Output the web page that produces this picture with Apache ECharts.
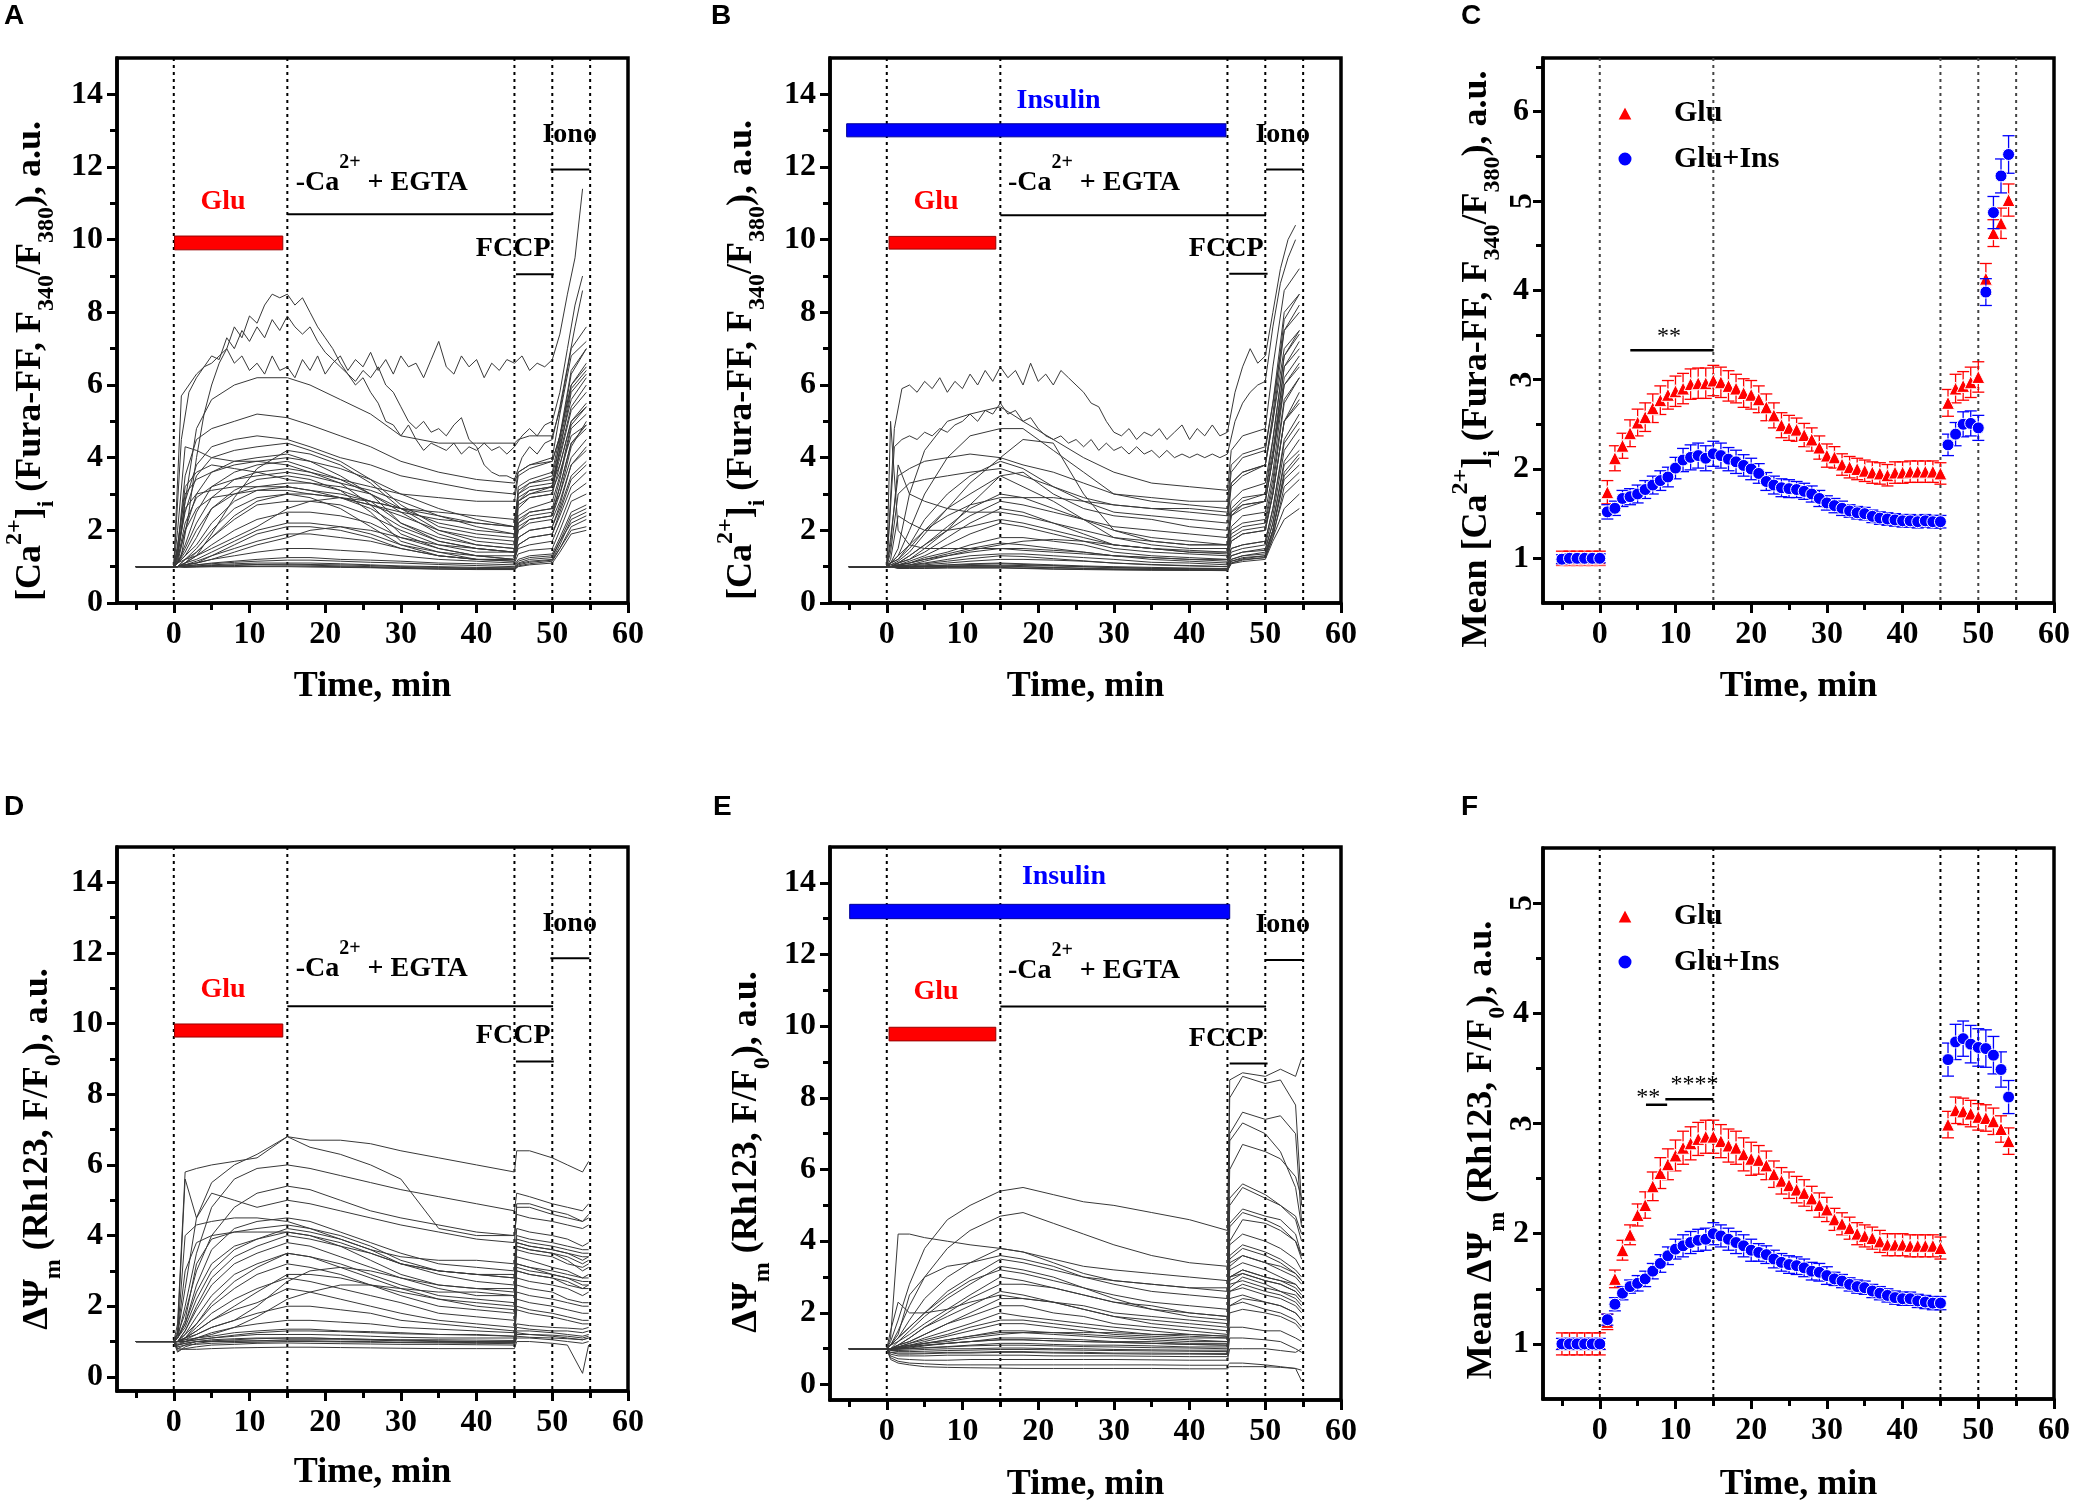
<!DOCTYPE html>
<html><head><meta charset="utf-8">
<script src="https://cdn.jsdelivr.net/npm/echarts@6/dist/echarts.min.js"></script>
<style>html,body{margin:0;padding:0;background:#fff}#c{width:2074px;height:1507px}</style>
</head><body><div id="c"></div><script>
// ---------------- DATA ----------------
const T_CA = [-5,0,0.5,1.5,3,5,8,11,15,18,22,26,30,35,40,45,45.5,47,50,51,52.5,54.5];
const T_RH = [-5,0,0.5,1.5,3,5,8,11,15,18,22,26,30,35,40,45,45.3,47,50,52,54,54.8];
const T_FINE = [-5,0,1,2,3,4,5,6,7,8,9,10,11,12,13,14,15,16,17,18,19,20,21,22,23,24,25,26,27,28,29,30,31,32,33,34,35,36,37,38,39,40,41,42,43,44,45,46,47,48,49,50,51,52,53,54];

const A_NOISY = [
[1,1,5.7,6.0,6.3,6.5,6.6,6.8,7.0,6.6,6.8,6.4,6.6,6.3,6.8,6.4,6.5,6.2,6.7,6.4,6.8,6.3,6.6,6.8,6.4,6.7,6.5,6.9,6.4,6.7,6.3,6.8,6.5,6.6,6.2,6.7,7.2,6.5,6.3,6.8,6.5,6.7,6.2,6.6,6.4,6.7,6.6,6.8,6.4,6.6,6.5,6.7,7.4,8.5,9.5,11.4],
[1,1,1.3,2.5,4.0,5.2,6.0,6.6,7.0,7.6,7.3,7.9,7.7,8.2,8.5,8.4,8.5,8.2,8.4,8.0,7.6,7.3,7.0,6.6,6.3,6.0,6.2,5.8,5.5,5.0,4.9,4.6,4.9,4.5,4.2,4.4,4.3,4.2,4.4,4.1,4.3,4.2,4.4,4.2,4.3,4.1,4.3,4.6,4.8,4.6,4.9,5.0,5.8,7.0,8.2,9.0],
[1,1,4.5,5.8,6.2,6.5,6.8,6.7,7.3,7.0,7.5,7.2,7.6,7.3,7.8,7.5,7.9,7.6,7.4,7.6,7.2,6.9,6.7,6.5,6.3,6.1,6.4,6.2,6.5,6.0,5.8,5.4,5.0,4.8,5.0,4.7,4.8,4.6,4.9,5.1,4.5,4.3,3.8,3.6,3.5,3.5,3.4,4.0,4.3,4.1,4.4,4.5,5.4,6.5,7.6,8.6]
];
const B_NOISY = [
[1,1,4.8,5.9,6.0,5.8,6.1,5.9,6.2,5.8,6.1,5.9,6.3,6.0,6.4,6.1,6.5,6.2,6.4,6.0,6.6,6.1,6.3,6.0,6.4,6.2,6.0,5.8,5.5,5.4,5.0,4.7,4.6,4.8,4.5,4.7,4.6,4.8,4.5,4.7,4.9,4.5,4.8,4.6,4.9,4.6,4.7,5.8,6.5,7.0,6.6,6.8,8.0,9.2,10.0,10.4],
[1,1,4.3,4.5,4.6,4.5,4.7,4.6,4.8,4.7,4.9,5.0,5.2,5.0,5.3,5.2,5.5,5.2,5.3,5.0,5.1,4.8,4.6,4.5,4.6,4.4,4.5,4.3,4.5,4.2,4.4,4.2,4.3,4.1,4.3,4.1,4.2,4.0,4.2,4.0,4.1,4.0,4.1,4.0,4.1,4.0,4.1,5.0,5.5,5.8,6.0,6.1,7.6,8.8,9.5,10.0]
];

const A_TRACES = [
[1,1,1.3,2.8,4.8,5.6,6.0,6.2,6.2,6.0,5.6,5.2,4.6,4.4,4.4,4.4,4.5,4.6,4.6,5.3,7.0,7.6],
[1,1,1.5,3.5,4.5,4.8,5.0,5.2,5.1,4.9,4.6,4.3,3.9,3.6,3.4,3.3,3.6,3.8,4.0,5.2,6.8,7.2],
[1,1,1.3,2.8,3.8,4.3,4.5,4.6,4.5,4.3,4.0,3.8,3.5,3.3,3.1,3.0,3.6,3.8,3.9,4.6,6.4,7.0],
[1,1,1.4,2.5,3.5,4.0,4.2,4.3,4.4,4.2,3.9,3.4,2.7,2.1,1.9,1.8,3.2,3.4,3.6,4.6,6.0,6.5],
[1,1,1.2,2.0,3.0,3.6,3.9,4.0,4.1,3.9,3.5,3.0,2.2,1.7,1.5,1.4,2.6,2.9,3.0,4.3,5.6,6.2],
[1,1,1.1,1.6,2.5,3.2,3.6,3.8,3.9,3.7,3.4,3.0,2.6,2.2,2.0,1.9,2.7,2.9,3.0,3.8,5.0,5.5],
[1,1,1.1,1.5,2.2,2.9,3.4,3.6,3.7,3.6,3.3,2.7,1.9,1.5,1.3,1.2,2.2,2.5,2.6,3.4,4.8,5.2],
[1,1,1.1,1.3,1.8,2.6,3.1,3.4,3.5,3.4,3.1,2.5,1.7,1.4,1.2,1.2,2.0,2.3,2.4,3.0,4.3,5.0],
[1,1,1.1,1.3,1.6,2.2,2.8,3.1,3.2,3.1,2.9,2.7,2.5,2.3,2.2,2.1,2.8,3.0,3.1,3.6,4.6,4.9],
[1,1,1.0,1.2,1.5,2.0,2.6,2.9,3.0,3.0,2.9,2.7,2.4,2.0,1.8,1.7,2.3,2.5,2.6,3.0,4.0,4.5],
[1,1,1.0,1.2,1.4,1.8,2.3,2.7,2.8,2.8,2.7,2.4,2.0,1.6,1.4,1.4,2.0,2.2,2.3,2.8,3.8,4.2],
[1,1,1.0,1.1,1.3,1.6,2.0,2.3,2.5,2.5,2.4,2.2,1.8,1.5,1.3,1.3,1.8,2.0,2.1,2.6,3.5,3.9],
[1,1,1.0,1.1,1.2,1.4,1.7,2.0,2.2,2.2,2.1,1.9,1.6,1.4,1.3,1.2,1.6,1.8,1.9,2.4,3.2,3.6],
[1,1,1.0,1.05,1.1,1.3,1.5,1.7,1.9,1.9,1.8,1.7,1.5,1.3,1.2,1.2,1.5,1.6,1.7,2.2,3.0,3.3],
[1,1,1.0,1.05,1.1,1.2,1.3,1.4,1.5,1.5,1.45,1.4,1.3,1.2,1.15,1.1,1.35,1.45,1.5,2.0,2.8,3.0],
[1,1,1.0,1.02,1.05,1.1,1.15,1.2,1.25,1.25,1.2,1.18,1.15,1.1,1.08,1.05,1.2,1.3,1.35,1.8,2.5,2.7],
[1,1,1.0,1.0,1.02,1.05,1.08,1.1,1.1,1.1,1.08,1.05,1.02,1.0,0.98,0.97,1.1,1.2,1.25,1.7,2.2,2.4],
[1,1,1.0,0.98,1.0,1.02,1.03,1.05,1.05,1.04,1.02,1.0,0.98,0.96,0.95,0.94,1.05,1.12,1.18,1.5,2.0,2.1],
[1,1,1.0,1.0,1.0,1.0,1.0,1.0,1.0,0.99,0.98,0.97,0.95,0.93,0.92,0.92,1.0,1.05,1.1,1.4,1.9,2.0],
[1,1,1.5,3.2,3.6,3.8,3.7,3.6,3.4,3.3,3.1,2.8,2.2,1.8,1.6,1.5,2.8,3.0,3.2,4.2,5.8,6.3],
[1,1,1.0,1.1,1.3,1.9,2.9,3.7,4.2,4.1,3.8,3.3,2.6,2.0,1.7,1.6,2.8,3.1,3.2,4.5,6.3,7.0],
[1,1,2.0,4.3,4.2,4.0,3.9,3.9,3.8,3.6,3.4,3.2,3.0,2.9,2.8,2.8,3.5,3.7,3.9,4.6,6.0,6.6],
[1,1,1.1,1.2,1.3,1.5,1.8,2.1,2.6,2.8,2.9,2.8,2.6,2.5,2.4,2.3,3.0,3.2,3.3,3.8,5.0,5.4],
[1,1,1.0,1.05,1.1,1.2,1.4,1.6,1.8,2.0,2.1,2.0,1.8,1.6,1.5,1.4,2.1,2.3,2.4,3.2,4.4,4.8],
[1,1,1.6,3.0,3.4,3.6,3.8,3.9,4.0,3.9,3.7,3.4,3.0,2.6,2.3,2.1,3.0,3.3,3.5,4.4,5.9,6.4],
[1,1,1.2,2.2,2.9,3.2,3.4,3.5,3.6,3.5,3.3,3.1,2.8,2.4,2.1,1.9,2.9,3.1,3.2,4.0,5.3,5.8],
[1,1,1.1,1.4,2.0,2.6,3.0,3.2,3.3,3.3,3.2,3.0,2.5,1.9,1.6,1.5,2.4,2.6,2.8,3.5,4.9,5.4],
[1,1,1.3,2.6,3.0,3.1,3.2,3.2,3.2,3.1,3.0,2.8,2.6,2.4,2.2,2.1,3.1,3.3,3.4,4.1,5.4,6.0],
[1,1,1.0,1.1,1.4,1.8,2.4,2.8,3.0,2.9,2.6,2.1,1.6,1.3,1.2,1.15,1.8,2.0,2.1,2.7,3.8,4.3],
[1,1,1.0,1.05,1.15,1.3,1.6,1.9,2.1,2.1,2.0,1.8,1.5,1.3,1.2,1.15,1.6,1.8,1.9,2.5,3.4,3.8],
[1,1,1.0,1.02,1.05,1.08,1.12,1.15,1.18,1.18,1.15,1.12,1.1,1.06,1.03,1.0,1.15,1.25,1.3,1.7,2.4,2.6],
[1,1,1.0,0.99,0.99,1.0,1.0,1.01,1.02,1.01,1.0,0.98,0.96,0.94,0.93,0.92,1.02,1.08,1.15,1.5,2.1,2.3],
[1,1,1.0,1.0,1.01,1.03,1.05,1.06,1.07,1.06,1.05,1.03,1.0,0.98,0.96,0.95,1.08,1.15,1.2,1.6,2.3,2.5],
[1,1,1.1,2.0,2.6,2.9,3.0,3.1,3.1,3.0,2.9,2.6,2.1,1.7,1.5,1.4,2.2,2.4,2.5,3.2,4.4,4.9]
];

const B_TRACES = [
[1,1,1.1,1.5,3.0,4.2,5.0,5.2,5.4,5.0,4.5,4.0,3.6,3.3,3.2,3.1,4.2,4.6,4.8,6.5,8.6,9.2],
[1,1,1.1,1.3,2.0,3.0,4.0,4.6,4.8,4.8,4.2,3.6,3.0,2.8,2.7,2.6,3.6,4.0,4.2,5.5,8.0,8.5],
[1,1,1.8,3.5,3.7,3.9,4.0,4.1,4.0,3.8,3.6,3.3,3.0,2.9,2.8,2.8,3.8,4.1,4.3,5.5,7.5,8.0],
[1,1,1.1,1.2,1.6,2.3,3.0,3.5,3.9,3.7,3.2,2.8,2.5,2.4,2.3,2.2,3.2,3.5,3.8,5.0,7.5,8.2],
[1,1,1.05,1.15,1.4,1.9,2.6,3.0,3.5,3.2,2.8,2.3,1.8,1.6,1.5,1.5,2.6,2.9,3.0,4.5,6.8,7.5],
[1,1,1.05,1.1,1.3,1.6,2.1,2.6,3.0,2.9,2.6,2.3,2.0,1.8,1.7,1.6,2.4,2.7,2.8,4.0,6.5,7.0],
[1,1,1.0,1.1,1.2,1.4,1.8,2.2,2.6,2.5,2.2,1.9,1.6,1.5,1.4,1.4,2.1,2.4,2.5,3.6,6.0,6.6],
[1,1,1.0,1.05,1.15,1.3,1.6,1.9,2.2,2.1,1.9,1.7,1.5,1.4,1.35,1.3,1.9,2.1,2.2,3.2,5.5,6.2],
[1,1,1.0,1.05,1.1,1.25,1.4,1.6,1.8,1.8,1.7,1.6,1.4,1.3,1.25,1.2,1.7,1.9,2.0,3.0,5.0,5.8],
[1,1,1.0,1.02,1.05,1.15,1.3,1.4,1.5,1.5,1.45,1.4,1.3,1.2,1.15,1.1,1.5,1.6,1.7,2.6,4.5,5.2],
[1,1,1.0,1.0,1.05,1.1,1.2,1.3,1.35,1.35,1.3,1.25,1.2,1.12,1.1,1.05,1.4,1.5,1.6,2.4,4.2,4.8],
[1,1,1.0,1.0,1.02,1.05,1.1,1.15,1.2,1.2,1.18,1.15,1.1,1.05,1.02,1.0,1.3,1.4,1.5,2.2,3.8,4.2],
[1,1,1.0,0.98,1.0,1.02,1.05,1.08,1.1,1.08,1.05,1.02,1.0,0.98,0.96,0.95,1.2,1.3,1.4,2.0,3.4,3.8],
[1,1,1.0,0.97,0.98,1.0,1.0,1.02,1.02,1.0,0.98,0.96,0.94,0.93,0.92,0.91,1.15,1.22,1.3,1.9,3.0,3.4],
[1,1,1.0,0.96,0.96,0.97,0.98,0.98,0.98,0.96,0.94,0.93,0.92,0.91,0.9,0.9,1.1,1.18,1.25,1.8,2.6,3.0],
[1,1,1.0,0.95,0.95,0.95,0.96,0.96,0.96,0.95,0.93,0.92,0.91,0.9,0.9,0.89,1.08,1.14,1.2,1.7,2.3,2.6],
[1,1,5.0,2.0,1.6,1.5,1.5,1.5,1.5,1.45,1.4,1.35,1.3,1.25,1.2,1.2,1.7,1.9,2.0,3.0,5.0,5.5],
[1,1,1.1,1.3,1.6,2.0,2.4,2.7,2.9,2.9,2.9,2.8,2.7,2.6,2.6,2.5,3.3,3.6,3.8,5.0,7.0,7.5],
[1,1,1.1,1.2,1.5,2.0,2.6,3.3,4.0,4.5,4.4,3.0,2.0,1.7,1.6,1.6,2.5,2.8,3.0,4.2,6.5,7.2],
[1,1,1.0,1.1,1.2,1.5,2.0,2.7,3.5,3.6,3.0,2.6,2.4,2.3,2.1,2.0,2.8,3.1,3.3,4.5,6.8,7.4],
[1,1,1.6,3.8,3.0,2.8,2.6,2.5,2.5,2.4,2.2,2.0,1.8,1.7,1.6,1.6,2.4,2.6,2.8,4.0,6.0,6.5],
[1,1,1.0,1.05,1.1,1.2,1.35,1.5,1.65,1.6,1.5,1.4,1.3,1.25,1.2,1.15,1.5,1.6,1.7,2.6,4.4,5.0],
[1,1,1.0,1.02,1.04,1.08,1.15,1.22,1.3,1.28,1.22,1.16,1.1,1.06,1.03,1.0,1.3,1.4,1.45,2.2,3.9,4.5],
[1,1,1.0,0.99,1.0,1.02,1.04,1.06,1.08,1.06,1.03,1.0,0.97,0.95,0.94,0.93,1.15,1.25,1.3,2.0,3.6,4.1],
[1,1,1.0,0.98,0.98,0.99,1.0,1.0,1.0,0.99,0.97,0.95,0.93,0.92,0.91,0.9,1.1,1.2,1.25,1.8,3.2,3.6],
[1,1,1.2,2.4,2.2,2.0,2.0,2.1,2.3,2.2,2.0,1.8,1.6,1.5,1.4,1.35,2.0,2.2,2.3,3.4,5.6,6.2],
[1,1,1.0,1.1,1.3,1.6,2.0,2.4,2.8,2.7,2.5,2.3,2.1,2.0,1.9,1.8,2.5,2.7,2.8,4.0,6.2,6.8],
[1,1,1.0,1.03,1.1,1.2,1.3,1.45,1.6,1.7,1.75,1.7,1.6,1.5,1.45,1.4,1.8,2.0,2.1,3.0,5.0,5.6],
[1,1,1.0,1.0,1.0,1.01,1.02,1.03,1.04,1.03,1.02,1.0,0.98,0.96,0.95,0.94,1.2,1.3,1.35,2.0,3.5,4.0],
[1,1,1.4,3.0,3.3,3.4,3.5,3.6,3.7,3.5,3.2,2.9,2.7,2.6,2.5,2.4,3.3,3.6,3.8,5.2,7.8,8.5]
];

const D_TRACES = [
[1,1,1.5,5.8,5.9,6.0,6.1,6.2,6.8,6.7,6.7,6.6,6.4,6.2,6.0,5.8,6.4,6.4,6.2,6.0,5.8,6.1],
[1,1,1.2,2.5,4.5,5.5,6.0,6.3,6.8,6.5,6.3,6.0,5.6,4.2,4.0,4.0,4.8,4.8,4.6,4.5,4.4,4.5],
[1,1,1.1,2.0,3.5,4.8,5.6,5.9,6.0,5.9,5.7,5.5,5.3,5.1,4.9,4.7,5.2,5.1,4.9,4.8,4.7,4.9],
[1,1,1.2,1.8,3.0,4.0,4.8,5.2,5.4,5.3,5.0,4.7,4.5,4.3,4.1,4.0,4.6,4.5,4.4,4.3,4.2,4.3],
[1,1,1.1,1.5,2.6,3.6,4.2,4.4,4.5,4.4,4.1,3.8,3.5,3.2,3.1,3.0,4.0,3.9,3.8,3.7,3.6,3.6],
[1,1,1.1,1.6,3.2,3.9,4.1,4.2,4.3,4.2,4.0,3.7,3.3,3.0,2.9,2.9,3.8,3.7,3.6,3.5,3.3,3.4],
[1,1,1.1,1.4,2.2,3.0,3.6,3.9,4.1,4.0,3.7,3.3,2.9,2.6,2.5,2.5,3.6,3.5,3.4,3.2,3.1,3.2],
[1,1,1.0,1.3,1.9,2.6,3.2,3.5,3.8,3.7,3.4,3.1,2.8,2.5,2.3,2.3,3.4,3.3,3.1,3.0,2.8,2.9],
[1,1,1.0,1.2,1.7,2.3,2.9,3.2,3.5,3.4,3.2,2.9,2.6,2.3,2.2,2.1,3.2,3.1,2.9,2.8,2.7,2.7],
[1,1,1.0,1.2,1.5,2.0,2.5,2.9,3.2,3.1,2.9,2.6,2.3,2.0,1.9,1.8,3.0,2.9,2.8,2.6,2.5,2.5],
[1,1,1.0,1.1,1.4,1.8,2.2,2.5,2.8,2.7,2.5,2.3,2.1,1.8,1.7,1.6,2.8,2.7,2.6,2.5,2.3,2.4],
[1,1,1.0,1.1,1.3,1.6,1.9,2.1,2.5,2.4,2.2,2.0,1.8,1.6,1.5,1.4,2.6,2.5,2.4,2.2,2.1,2.1],
[1,1,1.0,1.05,1.2,1.4,1.6,1.8,2.0,2.0,1.9,1.8,1.6,1.5,1.4,1.3,2.4,2.3,2.2,2.1,2.0,2.0],
[1,1,1.0,1.05,1.1,1.25,1.4,1.5,1.6,1.6,1.55,1.5,1.4,1.35,1.3,1.25,2.2,2.1,2.0,1.9,1.8,1.8],
[1,1,1.0,1.0,1.1,1.15,1.25,1.3,1.35,1.35,1.3,1.28,1.25,1.2,1.2,1.15,2.0,1.9,1.8,1.7,1.6,1.6],
[1,1,0.9,1.0,1.05,1.1,1.15,1.2,1.2,1.2,1.18,1.15,1.12,1.1,1.1,1.1,1.9,1.8,1.7,1.6,1.5,1.5],
[1,1,0.8,0.9,1.0,1.05,1.08,1.1,1.1,1.1,1.08,1.06,1.05,1.05,1.04,1.03,1.3,1.3,1.25,1.2,1.15,1.2],
[1,1,0.7,0.85,0.95,1.0,1.02,1.02,1.02,1.02,1.0,1.0,0.98,0.98,0.97,0.97,1.2,1.2,1.15,1.1,1.05,1.1],
[1,1,0.75,0.8,0.85,0.9,0.92,0.95,0.96,0.95,0.94,0.93,0.92,0.92,0.91,0.9,1.1,1.1,1.05,1.0,0.95,1.0],
[1,1,0.8,0.78,0.78,0.8,0.82,0.83,0.84,0.84,0.83,0.82,0.81,0.8,0.8,0.8,1.0,1.0,0.95,0.9,0.1,0.9],
[1,1,1.2,4.0,4.3,4.4,4.5,4.5,4.4,4.2,3.9,3.6,3.4,3.3,3.3,3.2,4.2,4.1,4.0,3.9,3.7,3.8],
[1,1,1.0,1.0,1.1,1.2,1.4,1.7,2.2,2.4,2.6,2.6,2.5,2.4,2.4,2.3,3.2,3.1,3.0,2.9,2.8,2.8],
[1,1,0.9,0.95,1.0,1.0,1.0,1.02,1.05,1.05,1.05,1.04,1.02,1.0,1.0,1.0,1.4,1.35,1.3,1.3,1.25,1.3],
[1,1,1.0,1.1,1.2,1.4,1.6,2.0,2.7,3.0,3.1,3.0,2.8,2.6,2.5,2.4,3.7,3.6,3.5,3.3,3.0,3.1],
[1,1,1.3,5.6,4.5,5.2,5.0,4.8,5.0,4.9,4.7,4.5,4.3,4.1,3.9,3.8,4.9,4.9,4.7,4.6,4.4,4.6],
[1,1,1.1,1.5,2.4,3.2,3.7,3.9,4.2,4.1,3.9,3.6,3.2,2.9,2.7,2.6,3.7,3.6,3.5,3.4,3.2,3.3],
[1,1,1.0,1.3,2.0,2.8,3.4,3.7,4.0,3.9,3.7,3.5,3.2,3.0,2.9,2.8,3.8,3.7,3.6,3.5,3.4,3.4],
[1,1,1.0,1.1,1.5,2.1,2.7,3.1,3.5,3.4,3.1,2.8,2.5,2.2,2.0,1.9,3.1,3.0,2.9,2.8,2.6,2.6],
[1,1,0.95,1.0,1.05,1.1,1.18,1.25,1.3,1.3,1.28,1.25,1.22,1.2,1.18,1.15,1.5,1.45,1.4,1.38,1.35,1.4],
[1,1,0.9,0.95,1.0,1.02,1.05,1.08,1.1,1.1,1.08,1.06,1.04,1.02,1.0,0.98,1.25,1.2,1.18,1.15,1.1,1.15],
[1,1,1.0,1.1,1.3,1.6,2.0,2.4,2.9,2.9,2.8,2.6,2.4,2.2,2.1,2.0,3.0,2.9,2.8,2.7,2.5,2.6],
[1,1,0.85,0.9,0.92,0.95,0.97,0.98,1.0,1.0,0.99,0.98,0.97,0.96,0.95,0.94,1.15,1.12,1.1,1.08,1.05,1.1],
[1,1,1.2,3.0,3.8,4.0,4.1,4.1,4.1,4.0,3.8,3.5,3.2,3.0,2.9,2.8,3.9,3.8,3.7,3.6,3.5,3.5]
];

const E_TRACES = [
[1,1,1.2,1.8,2.8,3.8,4.6,5.0,5.4,5.5,5.3,5.1,5.0,4.8,4.6,4.3,8.5,8.7,8.6,8.8,8.6,9.1],
[1,1,1.1,1.5,2.2,3.0,3.8,4.3,4.7,4.8,4.5,4.2,3.9,3.6,3.4,3.3,8.0,8.6,8.4,8.5,7.8,5.0],
[1,1,1.3,4.2,4.2,4.1,4.0,3.9,3.8,3.7,3.5,3.3,3.2,3.1,3.0,2.9,7.0,7.6,7.4,7.5,7.0,4.5],
[1,1,1.1,1.3,1.8,2.4,3.0,3.4,3.8,3.7,3.4,3.1,2.9,2.8,2.7,2.7,6.0,6.7,6.5,6.3,5.8,5.2],
[1,1,1.1,1.3,1.6,2.0,2.6,3.0,3.5,3.4,3.2,3.0,2.9,2.8,2.7,2.6,5.2,5.6,5.3,5.0,4.7,4.2],
[1,1,1.1,1.2,1.5,1.9,2.4,2.8,3.3,3.2,3.0,2.7,2.4,2.1,1.9,1.8,4.4,4.8,4.6,4.4,4.0,3.5],
[1,1,1.0,1.2,1.4,1.7,2.1,2.5,3.0,2.9,2.7,2.5,2.3,2.1,2.0,1.9,3.9,4.2,4.0,3.8,3.5,3.2],
[1,1,1.0,1.1,1.3,1.6,1.9,2.2,2.6,2.5,2.3,2.1,1.9,1.7,1.6,1.5,3.5,3.8,3.6,3.4,3.1,2.9],
[1,1,1.0,1.1,1.2,1.4,1.7,1.9,2.2,2.2,2.0,1.9,1.7,1.6,1.5,1.4,3.2,3.4,3.2,3.0,2.8,2.6],
[1,1,1.0,1.05,1.15,1.3,1.5,1.7,2.0,1.9,1.8,1.7,1.6,1.5,1.4,1.35,3.0,3.1,2.9,2.8,2.6,2.4],
[1,1,1.0,1.05,1.1,1.2,1.35,1.5,1.7,1.7,1.6,1.5,1.4,1.35,1.3,1.3,2.8,2.9,2.7,2.6,2.4,2.2],
[1,1,1.0,1.0,1.05,1.15,1.25,1.35,1.5,1.5,1.45,1.4,1.35,1.3,1.25,1.2,2.6,2.7,2.5,2.4,2.2,2.0],
[1,1,1.0,1.0,1.02,1.08,1.15,1.2,1.3,1.3,1.28,1.25,1.2,1.2,1.15,1.15,2.4,2.5,2.3,2.2,2.0,1.8],
[1,1,1.0,1.0,1.0,1.03,1.06,1.1,1.15,1.15,1.12,1.1,1.1,1.08,1.05,1.05,2.2,2.3,2.1,2.0,1.8,1.6],
[1,1,0.95,0.95,0.96,0.98,1.0,1.0,1.02,1.02,1.0,1.0,0.98,0.97,0.96,0.96,2.0,2.1,2.0,1.9,1.7,1.5],
[1,1,0.9,0.88,0.88,0.88,0.9,0.9,0.92,0.92,0.9,0.9,0.88,0.88,0.87,0.87,1.6,1.6,1.5,1.5,1.3,1.2],
[1,1,0.85,0.8,0.8,0.8,0.82,0.82,0.82,0.82,0.8,0.8,0.8,0.79,0.78,0.78,1.3,1.3,1.25,1.2,1.0,0.9],
[1,1,0.8,0.72,0.7,0.68,0.68,0.7,0.7,0.7,0.7,0.7,0.7,0.69,0.68,0.68,1.0,1.0,1.0,0.95,0.9,1.0],
[1,1,0.75,0.65,0.6,0.58,0.55,0.55,0.55,0.55,0.55,0.55,0.55,0.55,0.54,0.54,0.6,0.6,0.55,0.5,0.45,0.1],
[1,1,0.7,0.6,0.55,0.5,0.48,0.47,0.46,0.45,0.45,0.45,0.45,0.45,0.44,0.44,0.5,0.5,0.5,0.48,0.45,0.4],
[1,1,1.5,2.3,2.0,2.0,2.1,2.3,2.5,2.4,2.3,2.2,2.0,1.9,1.8,1.7,3.0,3.2,3.0,2.9,2.8,2.6],
[1,1,1.1,1.4,2.5,3.0,3.3,3.4,3.6,3.5,3.3,3.0,2.8,2.6,2.5,2.4,4.0,4.6,4.5,4.3,4.0,3.6],
[1,1,1.0,1.05,1.1,1.15,1.2,1.3,1.4,1.45,1.45,1.45,1.45,1.4,1.4,1.35,3.3,3.6,3.4,3.2,3.0,2.8],
[1,1,1.0,1.02,1.05,1.1,1.15,1.2,1.25,1.25,1.22,1.2,1.18,1.15,1.12,1.1,2.7,3.0,2.8,2.6,2.5,2.3],
[1,1,1.0,1.1,1.3,1.6,2.0,2.4,2.8,2.8,2.7,2.5,2.3,2.2,2.0,1.9,6.8,7.3,7.0,6.5,5.5,4.4],
[1,1,1.0,1.05,1.15,1.25,1.4,1.6,1.8,1.8,1.7,1.6,1.5,1.4,1.35,1.3,3.4,3.6,3.4,3.3,3.1,2.9],
[1,1,0.98,0.98,1.0,1.02,1.05,1.08,1.1,1.1,1.08,1.06,1.05,1.03,1.02,1.0,2.6,2.8,2.6,2.5,2.3,2.1],
[1,1,0.95,0.92,0.92,0.93,0.95,0.96,0.98,0.98,0.97,0.96,0.95,0.94,0.93,0.92,3.0,3.2,3.0,2.9,2.7,2.5],
[1,1,1.0,1.02,1.05,1.1,1.15,1.2,1.25,1.25,1.22,1.2,1.18,1.15,1.12,1.1,4.5,4.9,4.7,4.6,4.2,3.6],
[1,1,1.0,1.1,1.2,1.4,1.7,2.0,2.4,2.4,2.3,2.1,1.9,1.8,1.7,1.6,3.6,3.9,3.7,3.5,3.2,3.0],
[1,1,0.9,0.85,0.85,0.86,0.88,0.88,0.9,0.9,0.88,0.87,0.86,0.85,0.85,0.84,2.2,2.4,2.3,2.2,2.0,1.8],
[1,1,1.0,1.03,1.08,1.15,1.25,1.35,1.45,1.45,1.4,1.35,1.3,1.25,1.2,1.2,2.9,3.1,2.9,2.8,2.6,2.4],
[1,1,1.1,1.3,1.6,2.0,2.5,2.9,3.2,3.1,2.9,2.7,2.5,2.3,2.2,2.1,5.0,5.5,5.2,5.0,4.6,4.0]
];

const T_MEAN = [-5,-4,-3,-2,-1,0,1,2,3,4,5,6,7,8,9,10,11,12,13,14,15,16,17,18,19,20,21,22,23,24,25,26,27,28,29,30,31,32,33,34,35,36,37,38,39,40,41,42,43,44,45,46,47,48,49,50,51,52,53,54];

const C_GLU = [1.0,1.0,1.0,1.0,1.0,1.0,
1.74,2.12,2.26,2.40,2.52,2.58,2.68,2.77,2.83,2.87,
2.90,2.95,2.96,2.96,2.99,2.97,2.93,2.90,2.85,2.83,
2.78,2.69,2.60,2.49,2.46,2.44,2.38,2.33,2.24,2.15,
2.13,2.05,2.02,2.00,1.98,1.96,1.95,1.93,1.96,1.96,
1.97,1.97,1.97,1.97,1.95,
2.74,2.90,2.93,2.97,3.03,
4.13,4.64,4.75,5.01];
const C_GLU_ERR = [0.08,0.08,0.08,0.08,0.08,0.08,
0.13,0.14,0.14,0.15,0.15,0.16,0.16,0.16,0.16,0.17,
0.17,0.17,0.17,0.17,0.17,0.17,0.17,0.16,0.16,0.16,
0.15,0.15,0.14,0.14,0.14,0.13,0.13,0.13,0.13,0.13,
0.12,0.12,0.12,0.12,0.12,0.12,0.12,0.12,0.12,0.12,
0.12,0.12,0.12,0.12,0.12,
0.15,0.16,0.16,0.17,0.17,
0.17,0.15,0.17,0.18];
const C_INS = [0.99,1.0,1.0,1.0,1.0,1.0,
1.52,1.56,1.67,1.69,1.72,1.77,1.82,1.87,1.91,2.01,
2.10,2.13,2.15,2.12,2.17,2.15,2.11,2.08,2.04,2.00,
1.95,1.86,1.82,1.79,1.78,1.77,1.75,1.72,1.67,1.62,
1.59,1.56,1.53,1.51,1.50,1.47,1.45,1.44,1.43,1.42,
1.42,1.41,1.42,1.41,1.41,
2.27,2.39,2.50,2.51,2.46,
3.98,4.87,5.28,5.52];
const C_INS_ERR = [0.05,0.05,0.05,0.05,0.05,0.05,
0.08,0.08,0.09,0.09,0.10,0.10,0.10,0.11,0.11,0.12,
0.13,0.14,0.14,0.14,0.14,0.14,0.13,0.13,0.12,0.12,
0.11,0.10,0.10,0.10,0.10,0.09,0.09,0.09,0.09,0.08,
0.08,0.08,0.07,0.07,0.07,0.07,0.07,0.07,0.07,0.07,
0.07,0.07,0.07,0.07,0.07,
0.12,0.13,0.14,0.14,0.14,
0.15,0.18,0.19,0.21];

const F_GLU = [1.0,1.0,1.0,1.0,1.0,1.0,
1.20,1.59,1.85,1.99,2.17,2.26,2.43,2.55,2.63,2.71,
2.78,2.82,2.86,2.88,2.88,2.84,2.80,2.78,2.72,2.68,
2.67,2.62,2.54,2.48,2.44,2.40,2.37,2.32,2.26,2.22,
2.13,2.09,2.05,2.00,1.98,1.96,1.93,1.90,1.90,1.90,
1.89,1.89,1.89,1.89,1.87,
2.99,3.12,3.11,3.09,3.06,
3.05,3.02,2.95,2.84];
const F_GLU_ERR = [0.1,0.1,0.1,0.1,0.1,0.1,
0.07,0.08,0.09,0.09,0.10,0.12,0.13,0.14,0.14,0.14,
0.15,0.15,0.15,0.15,0.15,0.15,0.15,0.15,0.15,0.15,
0.13,0.13,0.12,0.12,0.12,0.12,0.12,0.11,0.11,0.11,
0.10,0.10,0.10,0.10,0.10,0.10,0.10,0.10,0.10,0.10,
0.10,0.10,0.10,0.10,0.10,
0.12,0.12,0.12,0.12,0.12,
0.12,0.12,0.12,0.12];
const F_INS = [1.0,1.0,1.0,1.0,1.0,1.0,
1.22,1.36,1.46,1.52,1.55,1.59,1.66,1.73,1.80,1.86,
1.89,1.92,1.94,1.95,2.00,1.98,1.95,1.92,1.89,1.85,
1.83,1.81,1.77,1.74,1.72,1.71,1.69,1.66,1.65,1.62,
1.59,1.57,1.54,1.52,1.51,1.48,1.46,1.44,1.42,1.41,
1.41,1.39,1.38,1.37,1.37,
3.58,3.74,3.77,3.72,3.69,
3.68,3.62,3.49,3.24];
const F_INS_ERR = [0.05,0.05,0.05,0.05,0.05,0.05,
0.05,0.06,0.06,0.06,0.07,0.07,0.07,0.08,0.08,0.09,
0.10,0.10,0.10,0.10,0.10,0.10,0.10,0.10,0.10,0.10,
0.08,0.08,0.08,0.08,0.08,0.08,0.08,0.08,0.08,0.08,
0.06,0.06,0.06,0.06,0.06,0.06,0.06,0.06,0.06,0.06,
0.06,0.06,0.06,0.06,0.06,
0.15,0.16,0.16,0.17,0.17,
0.17,0.17,0.16,0.15];

// tick labels
const X_MAJOR = [0,10,20,30,40,50,60];
const X_MINOR = [-5,5,15,25,35,45,55];
const Y_TR_MAJOR = [0,2,4,6,8,10,12,14];
const Y_TR_MINOR = [1,3,5,7,9,11,13];
const C_Y_MAJOR = [1,2,3,4,5,6];
const C_Y_LABELS = [1,2,4,6];
const C_Y_ROT = [3,5];
const C_Y_MINOR = [1.5,2.5,3.5,4.5,5.5,6.5];
const F_Y_MAJOR = [1,2,3,4,5];
const F_Y_LABELS = [1,2,4];
const F_Y_ROT = [3,5];
const F_Y_MINOR = [1.5,2.5,3.5,4.5];
const EVENT_X = [0,15,45,50,55];
const LEGEND_NAMES = ['Glu','Glu+Ins'];

// ---------------- LAYOUT / STYLE ----------------
const SERIF = 'Liberation Serif';
const TICK_FONT = {fontFamily:SERIF, fontWeight:'bold', fontSize:32, color:'#000'};
const TRACE_COLOR = '#383838';
const RED = '#ff0000', BLUE = '#0000ff';

const PANELS = [
 {grid:{left:117,top:58,width:511,height:545}, y:[0,15], yMajor:Y_TR_MAJOR, yLabels:Y_TR_MAJOR, yMinor:Y_TR_MINOR, yRot:[], nameGap:66, dot:'#000'},
 {grid:{left:830,top:58,width:511,height:545}, y:[0,15], yMajor:Y_TR_MAJOR, yLabels:Y_TR_MAJOR, yMinor:Y_TR_MINOR, yRot:[], nameGap:66, dot:'#000'},
 {grid:{left:1543,top:58,width:511,height:545}, y:[0.5,6.6], yMajor:C_Y_MAJOR, yLabels:C_Y_LABELS, yMinor:C_Y_MINOR, yRot:C_Y_ROT, nameGap:66, dot:'#444'},
 {grid:{left:117,top:847,width:511,height:544}, y:[-0.4,15], yMajor:Y_TR_MAJOR, yLabels:Y_TR_MAJOR, yMinor:Y_TR_MINOR, yRot:[], nameGap:64, dot:'#000'},
 {grid:{left:830,top:847,width:511,height:553}, y:[-0.43,15], yMajor:Y_TR_MAJOR, yLabels:Y_TR_MAJOR, yMinor:Y_TR_MINOR, yRot:[], nameGap:67, dot:'#000'},
 {grid:{left:1543,top:848,width:511,height:551}, y:[0.5,5.5], yMajor:F_Y_MAJOR, yLabels:F_Y_LABELS, yMinor:F_Y_MINOR, yRot:F_Y_ROT, nameGap:68, dot:'#000'}
];

const RICH_ANN = {
  n:{fontFamily:SERIF, fontWeight:'bold', fontSize:28, lineHeight:60, verticalAlign:'middle', color:'#000'},
  s:{fontFamily:SERIF, fontWeight:'bold', fontSize:20, lineHeight:20, verticalAlign:'top', color:'#000'}
};
const EGTA_TEXT = '{n|-Ca}{s|2+}{n| + EGTA}';

const ANN = [
 {
  bars:[{box:[0.1,9.72,14.4,10.1], fill:RED, edge:'#900'}],
  segs:[[15,50,10.7],[45.2,50.2,9.05],[49.75,54.9,11.93]],
  texts:[{x:6.5,y:11.04,t:'Glu',c:RED,al:'center'},{x:16.1,y:11.57,t:EGTA_TEXT,rich:true,al:'left'},{x:39.9,y:9.74,t:'FCCP',al:'left'},{x:48.7,y:12.88,t:'Iono',al:'left'}]
 },
 {
  bars:[{box:[0.3,9.74,14.4,10.09], fill:RED, edge:'#900'},{box:[-5.3,12.83,44.8,13.19], fill:BLUE, edge:'#009'}],
  segs:[[15,50.1,10.67],[45.25,50.3,9.06],[50.1,55,11.93]],
  texts:[{x:22.7,y:13.83,t:'Insulin',c:BLUE,al:'center'},{x:6.5,y:11.04,t:'Glu',c:RED,al:'center'},{x:16.0,y:11.57,t:EGTA_TEXT,rich:true,al:'left'},{x:39.9,y:9.74,t:'FCCP',al:'left'},{x:48.7,y:12.88,t:'Iono',al:'left'}]
 },
 null,
 {
  bars:[{box:[0.1,9.62,14.4,9.99], fill:RED, edge:'#900'}],
  segs:[[15,50.1,10.49],[45.2,50.2,8.93],[49.75,54.9,11.85]],
  texts:[{x:6.5,y:10.96,t:'Glu',c:RED,al:'center'},{x:16.1,y:11.54,t:EGTA_TEXT,rich:true,al:'left'},{x:39.9,y:9.65,t:'FCCP',al:'left'},{x:48.7,y:12.82,t:'Iono',al:'left'}]
 },
 {
  bars:[{box:[0.3,9.59,14.4,9.97], fill:RED, edge:'#900'},{box:[-4.9,13.0,45.3,13.4], fill:BLUE, edge:'#009'}],
  segs:[[15,50.1,10.55],[45.3,50.3,8.96],[50.0,55,11.85]],
  texts:[{x:23.4,y:14.17,t:'Insulin',c:BLUE,al:'center'},{x:6.5,y:10.96,t:'Glu',c:RED,al:'center'},{x:16.0,y:11.55,t:EGTA_TEXT,rich:true,al:'left'},{x:39.9,y:9.66,t:'FCCP',al:'left'},{x:48.7,y:12.82,t:'Iono',al:'left'}]
 },
 null
];
const STARS = [
 null,null,
 {segs:[[4.03,15.04,3.33]], texts:[{x:9.15,y:3.535,t:'**'}]},
 null,null,
 {segs:[[6.1,8.9,3.17],[8.66,15.0,3.22]], texts:[{x:6.4,y:3.28,t:'**'},{x:12.5,y:3.4,t:'****'}]}
];

// ---------------- BUILD ----------------
const grids=[], xAxes=[], yAxes=[], series=[];
PANELS.forEach((p,gi)=>{
  grids.push(Object.assign({show:true, borderColor:'#000', borderWidth:3.5, backgroundColor:'transparent', containLabel:false}, p.grid));
  xAxes.push({gridIndex:gi, type:'value', min:-7.5, max:60, position:'bottom', offset:0,
    axisLine:{show:true,onZero:false,lineStyle:{color:'#000',width:3.5}},
    axisTick:{show:true,inside:false,length:10,customValues:X_MAJOR,lineStyle:{color:'#000',width:3}},
    axisLabel:Object.assign({show:true,margin:16,customValues:X_MAJOR},TICK_FONT),
    splitLine:{show:false},
    name:'Time, min', nameLocation:'middle', nameGap:p.nameGap,
    nameTextStyle:{fontFamily:SERIF,fontWeight:'bold',fontSize:36,color:'#000'}});
  xAxes.push({gridIndex:gi, type:'value', min:-7.5, max:60, position:'bottom', offset:0,
    axisLine:{show:false,onZero:false},
    axisTick:{show:true,inside:false,length:7,customValues:X_MINOR,lineStyle:{color:'#000',width:3}},
    axisLabel:{show:false}, splitLine:{show:false}});
  yAxes.push({gridIndex:gi, type:'value', min:p.y[0], max:p.y[1], position:'left', offset:0,
    axisLine:{show:true,onZero:false,lineStyle:{color:'#000',width:3.5}},
    axisTick:{show:true,inside:false,length:10,customValues:p.yMajor,lineStyle:{color:'#000',width:3}},
    axisLabel:Object.assign({show:true,margin:14,customValues:p.yLabels},TICK_FONT),
    splitLine:{show:false}});
  yAxes.push({gridIndex:gi, type:'value', min:p.y[0], max:p.y[1], position:'left', offset:0,
    axisLine:{show:false,onZero:false},
    axisTick:{show:true,inside:false,length:7,customValues:p.yMinor,lineStyle:{color:'#000',width:3}},
    axisLabel:{show:false}, splitLine:{show:false}});
  yAxes.push({gridIndex:gi, type:'value', min:p.y[0], max:p.y[1], position:'left', offset:0,
    axisLine:{show:false,onZero:false}, axisTick:{show:false},
    axisLabel: p.yRot.length ? Object.assign({show:true,margin:4,rotate:90,customValues:p.yRot},TICK_FONT) : {show:false},
    splitLine:{show:false}});
  series.push({type:'custom', xAxisIndex:2*gi, yAxisIndex:3*gi, z:1, silent:true, animation:false,
    data:EVENT_X.map(x=>[x,p.y[0]]),
    renderItem:(params,api)=>{const c=api.coord([api.value(0),api.value(1)]); const cs=params.coordSys;
      return {type:'line', shape:{x1:c[0],y1:cs.y,x2:c[0],y2:cs.y+cs.height}, style:{stroke:p.dot,lineWidth:2,lineDash:[3,4]}};}});
});

function traceSeries(gi, times, traces){
  traces.forEach(tr=>series.push({type:'line', xAxisIndex:2*gi, yAxisIndex:3*gi, z:2, silent:true, animation:false,
    symbol:'none', showSymbol:false, lineStyle:{color:TRACE_COLOR,width:1},
    data:times.map((t,i)=>[t,tr[i]])}));
}
traceSeries(0,T_CA,A_TRACES);
traceSeries(0,T_FINE,A_NOISY);
traceSeries(1,T_CA,B_TRACES);
traceSeries(1,T_FINE,B_NOISY);
traceSeries(3,T_RH,D_TRACES);
traceSeries(4,T_RH,E_TRACES);

function segSeries(gi, segs, width){
  series.push({type:'custom', xAxisIndex:2*gi, yAxisIndex:3*gi, z:5, silent:true, animation:false,
    data:segs,
    renderItem:(params,api)=>{const a=api.coord([api.value(0),api.value(2)]), b=api.coord([api.value(1),api.value(2)]);
      return {type:'line', shape:{x1:a[0],y1:a[1],x2:b[0],y2:b[1]}, style:{stroke:'#000',lineWidth:width}};}});
}
function textSeries(gi, texts, font, dy){
  series.push({type:'custom', xAxisIndex:2*gi, yAxisIndex:3*gi, z:6, silent:true, animation:false,
    data:texts.map(t=>[t.x,t.y]),
    renderItem:(params,api)=>{const t=texts[params.dataIndex]; const c=api.coord([api.value(0),api.value(1)]);
      const style = t.rich ? {text:t.t, rich:RICH_ANN, align:t.al, verticalAlign:'middle'}
                           : {text:t.t, fill:t.c||'#000', font:font, align:t.al||'center', verticalAlign:'middle'};
      return {type:'text', x:c[0], y:c[1]+dy, style:style};}});
}
ANN.forEach((a,gi)=>{
  if(!a) return;
  a.bars.forEach(b=>series.push({type:'custom', xAxisIndex:2*gi, yAxisIndex:3*gi, z:5, silent:true, animation:false,
    data:[b.box],
    renderItem:(params,api)=>{const p1=api.coord([api.value(0),api.value(1)]), p2=api.coord([api.value(2),api.value(3)]);
      return {type:'rect', shape:{x:Math.min(p1[0],p2[0]),y:Math.min(p1[1],p2[1]),width:Math.abs(p2[0]-p1[0]),height:Math.abs(p2[1]-p1[1])},
        style:{fill:b.fill,stroke:b.edge,lineWidth:1}};}}));
  segSeries(gi, a.segs, 2);
  textSeries(gi, a.texts, 'bold 28px "Liberation Serif"', 0);
});
STARS.forEach((s,gi)=>{
  if(!s) return;
  segSeries(gi, s.segs, 2.5);
  textSeries(gi, s.texts, '24px "Liberation Serif"', 5);
});

function errSeries(gi, times, vals, errs, color, z){
  series.push({type:'custom', xAxisIndex:2*gi, yAxisIndex:3*gi, z:z, silent:true, animation:false,
    data:times.map((t,i)=>[t,vals[i],errs[i]]),
    renderItem:(params,api)=>{const x=api.value(0), y=api.value(1), e=api.value(2);
      const a=api.coord([x,y+e]), b=api.coord([x,y-e]); const st={stroke:color,lineWidth:1.3};
      return {type:'group', children:[
        {type:'line',shape:{x1:a[0],y1:a[1],x2:b[0],y2:b[1]},style:st},
        {type:'line',shape:{x1:a[0]-6,y1:a[1],x2:a[0]+6,y2:a[1]},style:st},
        {type:'line',shape:{x1:b[0]-6,y1:b[1],x2:b[0]+6,y2:b[1]},style:st}]};}});
}
function meanSeries(gi, times, vals, name, symbol, size, color, z){
  series.push({type:'scatter', name:name, xAxisIndex:2*gi, yAxisIndex:3*gi, z:z, animation:false,
    symbol:symbol, symbolSize:size, itemStyle:{color:color, borderColor:'#fff', borderWidth:1, opacity:1},
    data:times.map((t,i)=>[t,vals[i]])});
}
errSeries(2,T_MEAN,C_GLU,C_GLU_ERR,RED,3);
meanSeries(2,T_MEAN,C_GLU,LEGEND_NAMES[0],'triangle',13,RED,4);
errSeries(2,T_MEAN,C_INS,C_INS_ERR,BLUE,5);
meanSeries(2,T_MEAN,C_INS,LEGEND_NAMES[1],'circle',12,BLUE,6);
errSeries(5,T_MEAN,F_GLU,F_GLU_ERR,RED,3);
meanSeries(5,T_MEAN,F_GLU,LEGEND_NAMES[0],'triangle',13,RED,4);
errSeries(5,T_MEAN,F_INS,F_INS_ERR,BLUE,5);
meanSeries(5,T_MEAN,F_INS,LEGEND_NAMES[1],'circle',12,BLUE,6);

const legendBase = {data:LEGEND_NAMES, orient:'vertical', left:1611, itemWidth:16, itemHeight:15, itemGap:16, selectedMode:false,
  textStyle:{fontFamily:SERIF,fontWeight:'bold',fontSize:30,color:'#000',lineHeight:30,padding:[0,0,0,36]}};

const RICH_TITLE = {
  n:{fontFamily:SERIF,fontWeight:'bold',fontSize:36,lineHeight:56,verticalAlign:'middle',color:'#000'},
  p:{fontFamily:SERIF,fontWeight:'bold',fontSize:24,lineHeight:24,verticalAlign:'top',color:'#000'},
  b:{fontFamily:SERIF,fontWeight:'bold',fontSize:24,lineHeight:24,verticalAlign:'bottom',color:'#000'}
};
const TITLE_CA = '{n|[Ca}{p|2+}{n|]}{b|i}{n| (Fura-FF, F}{b|340}{n|/F}{b|380}{n|), a.u.}';
const TITLE_RH = '{n|ΔΨ}{b|m}{n| (Rh123, F/F}{b|0}{n|), a.u.}';
const Y_TITLES = [
  {x:31,y:361,t:TITLE_CA},{x:742,y:360,t:TITLE_CA},{x:1477,y:359,t:'{n|Mean }'+TITLE_CA},
  {x:38,y:1149,t:TITLE_RH},{x:747,y:1152,t:TITLE_RH},{x:1482,y:1150,t:'{n|Mean }'+TITLE_RH}
];
const LETTERS = [{x:4,y:2,t:'A'},{x:711,y:2,t:'B'},{x:1461,y:2,t:'C'},{x:4,y:793,t:'D'},{x:713,y:793,t:'E'},{x:1461,y:793,t:'F'}];
const graphics = [];
Y_TITLES.forEach(o=>graphics.push({type:'text', x:o.x, y:o.y, rotation:Math.PI/2, silent:true,
  style:{text:o.t, rich:RICH_TITLE, align:'center', verticalAlign:'middle'}}));
LETTERS.forEach(o=>graphics.push({type:'text', left:o.x, top:o.y, silent:true,
  style:{text:o.t, font:'bold 28px "Liberation Sans"', fill:'#000'}}));

const chart = echarts.init(document.getElementById('c'), null, {renderer:'canvas', width:2074, height:1507});
chart.setOption({
  animation:false,
  backgroundColor:'#fff',
  grid:grids, xAxis:xAxes, yAxis:yAxes, series:series,
  legend:[Object.assign({top:93},legendBase), Object.assign({top:896},legendBase)],
  graphic:graphics
});
</script></body></html>
